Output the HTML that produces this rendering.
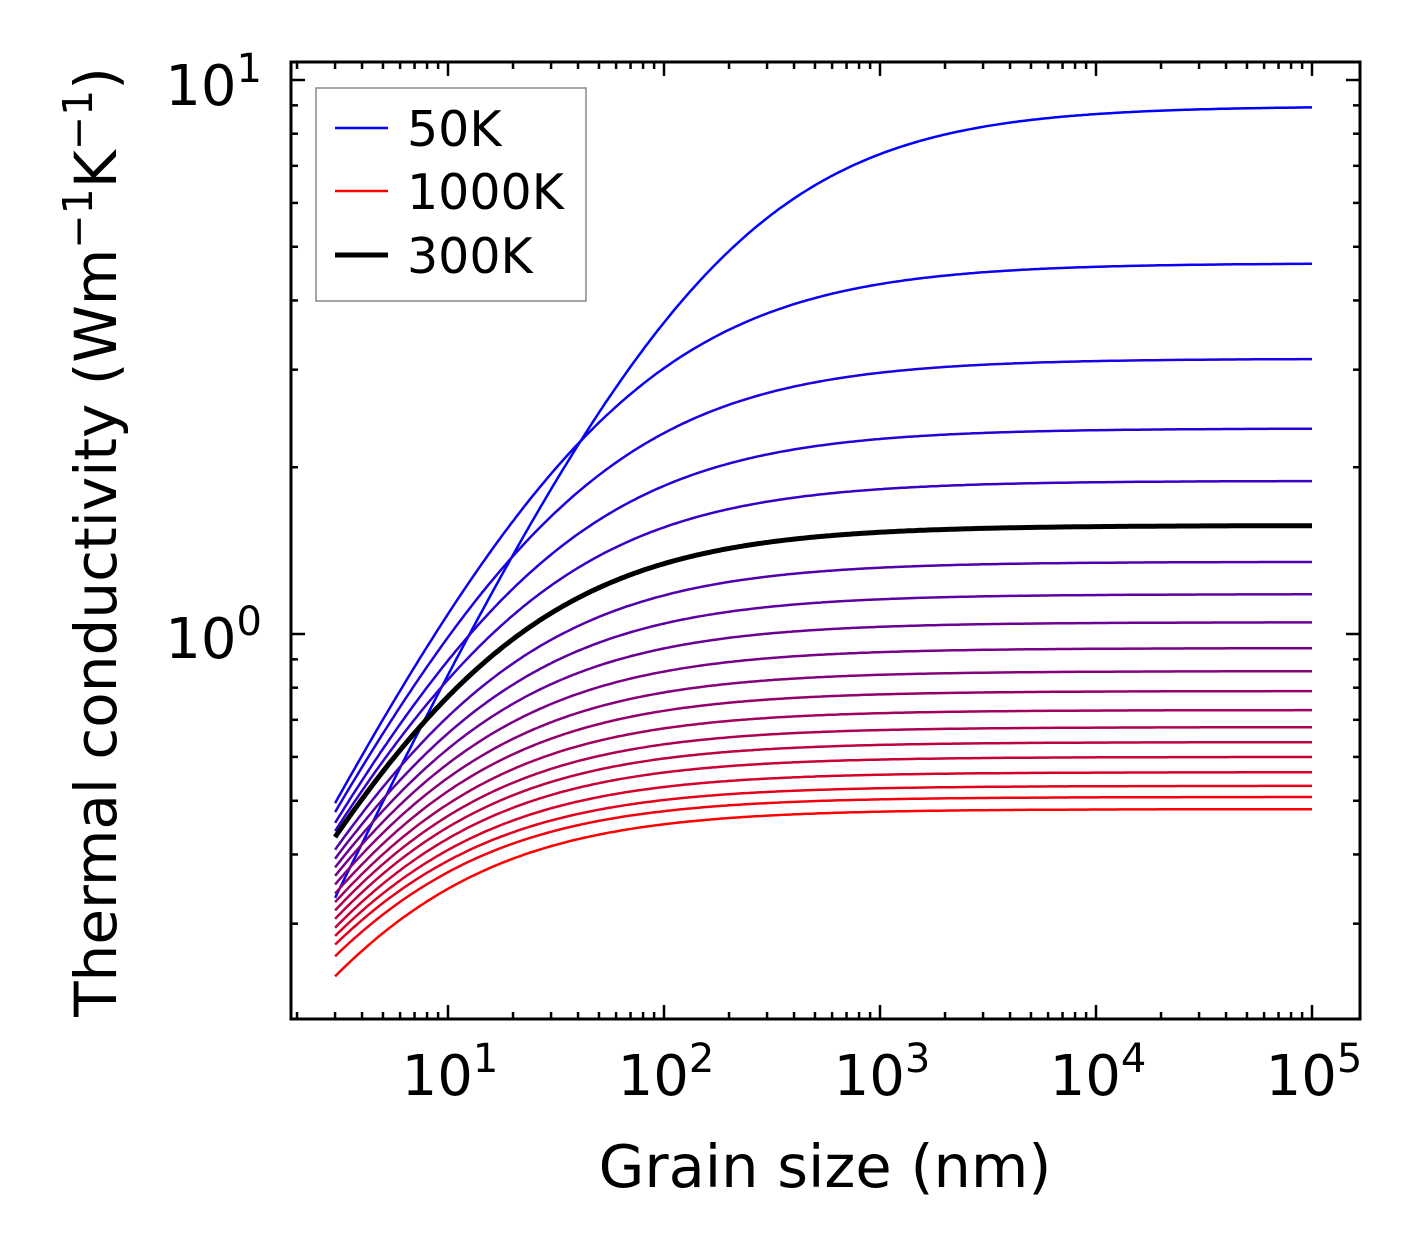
<!DOCTYPE html>
<html><head><meta charset="utf-8"><style>
html,body{margin:0;padding:0;background:#fff}
svg{display:block;font-family:"DejaVu Sans","Liberation Sans",sans-serif}
</style></head><body>
<svg id="chart" width="1421" height="1257" viewBox="0 0 1421 1257" xmlns="http://www.w3.org/2000/svg">
<rect width="1421" height="1257" fill="#fff"/>
<g id="curves"></g>
<g id="ticks"></g>
<rect x="291" y="62" width="1069" height="957" fill="none" stroke="#000" stroke-width="3"/>
<g id="xlabels" font-size="56" text-anchor="middle"></g>
<g font-size="56" text-anchor="end">
<text x="262" y="105">10<tspan font-size="40" dy="-23">1</tspan></text>
<text x="262" y="658">10<tspan font-size="40" dy="-23">0</tspan></text>
</g>
<text x="825" y="1187" font-size="59" text-anchor="middle">Grain size (nm)</text>
<text transform="translate(116,542) rotate(-90)" font-size="58" text-anchor="middle">Thermal conductivity (Wm<tspan font-size="41" dy="-24">−1</tspan><tspan dy="24">K</tspan><tspan font-size="41" dy="-24">−1</tspan><tspan dy="24">)</tspan></text>
<g>
<rect x="316" y="88" width="270" height="213" fill="#fff" stroke="#888" stroke-width="1.5"/>
<line x1="335" y1="128" x2="388" y2="128" stroke="#0000ff" stroke-width="2.5"/>
<text x="407" y="146" font-size="49">50K</text>
<line x1="335" y1="191" x2="388" y2="191" stroke="#ff0000" stroke-width="2.5"/>
<text x="407" y="209" font-size="49">1000K</text>
<line x1="335" y1="255" x2="388" y2="255" stroke="#000" stroke-width="5"/>
<text x="407" y="273" font-size="49">300K</text>
</g>
</svg>
<script>
const temperatures = [50,100,150,200,250,300,350,400,450,500,550,600,650,700,750,800,850,900,950,1000];
const plateauK = [8.97,4.67,3.14,2.35,1.89,1.57,1.35,1.18,1.05,0.943,0.857,0.789,0.729,0.679,0.638,0.600,0.563,0.532,0.508,0.483];
const startK = [0.334,0.495,0.477,0.456,0.441,0.430,0.408,0.393,0.379,0.366,0.353,0.340,0.328,0.317,0.306,0.295,0.285,0.275,0.262,0.241];
const shapeExp = [0.82,0.78,0.78,0.78,0.78,0.78,0.78,0.78,0.78,0.78,0.78,0.78,0.78,0.78,0.78,0.78,0.78,0.78,0.78,0.78];
const grainMin = 3, grainMax = 1e5;
const xTickExps = [1,2,3,4,5];
const NS = 'http://www.w3.org/2000/svg';
const X = v => 448 + 216*(Math.log10(v)-1);
const Y = v => 634 - 554*Math.log10(v);
const cg = document.getElementById('curves');
const order = temperatures.map((t,i)=>i).filter(i=>temperatures[i]!==300).concat([temperatures.indexOf(300)]);
order.forEach(i=>{
  const T = temperatures[i], kinf = plateauK[i], k3 = startK[i], P = shapeExp[i];
  const Lc = grainMin*Math.pow(kinf/k3-1,1/P);
  let d='';
  for(let s=0;s<=300;s++){
    const L = grainMin*Math.pow(grainMax/grainMin,s/300);
    const k = kinf/(1+Math.pow(Lc/L,P));
    d += (s?'L':'M')+X(L).toFixed(1)+','+Y(k).toFixed(1);
  }
  const p = document.createElementNS(NS,'path');
  p.setAttribute('d',d);
  const t=(T-50)/950;
  const col = T===300?'#000':`rgb(${Math.round(255*t)},0,${Math.round(255*(1-t))})`;
  p.setAttribute('stroke',col);
  p.setAttribute('stroke-width',T===300?5:2.5);
  p.setAttribute('fill','none');
  
  
  cg.appendChild(p);
});
const tg = document.getElementById('ticks');
function tick(x1,y1,x2,y2){
  const l=document.createElementNS(NS,'line');
  l.setAttribute('x1',x1);l.setAttribute('y1',y1);l.setAttribute('x2',x2);l.setAttribute('y2',y2);
  l.setAttribute('stroke','#000');l.setAttribute('stroke-width',2.5);
  
  
  tg.appendChild(l);
}
for(let e=0;e<=5;e++){for(let m=1;m<=9;m++){
  const v=m*Math.pow(10,e), x=X(v);
  if(x<292||x>1359) continue;
  const len=m===1?14:7;
  tick(x,1019,x,1019-len); tick(x,62,x,62+len);
}}
for(let e=-1;e<=1;e++){for(let m=1;m<=9;m++){
  const v=m*Math.pow(10,e), y=Y(v);
  if(y<63||y>1018) continue;
  const len=m===1?14:7;
  tick(291,y,291+len,y); tick(1360,y,1360-len,y);
}}
const xl=document.getElementById('xlabels');
xTickExps.forEach(e=>{
  const t=document.createElementNS(NS,'text');
  t.setAttribute('x',X(Math.pow(10,e))+2);t.setAttribute('y',1095);
  
  
  t.innerHTML='10<tspan font-size="40" dy="-23">'+e+'</tspan>';
  xl.appendChild(t);
});
</script>
</body></html>
